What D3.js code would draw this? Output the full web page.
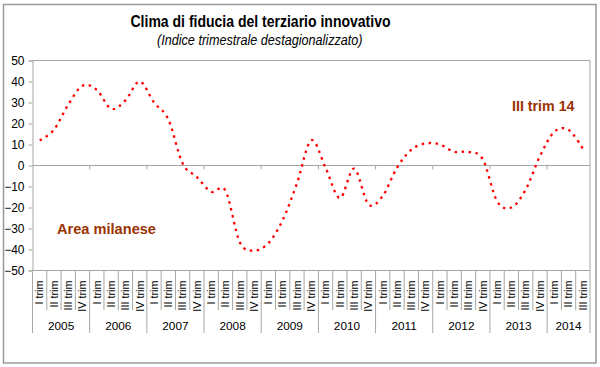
<!DOCTYPE html>
<html>
<head>
<meta charset="utf-8">
<script src="https://cdn.jsdelivr.net/npm/d3@7"></script>
<style>
  body { margin: 0; background: #fff; }
  svg { display: block; font-family: 'Liberation Sans', Arial, sans-serif; }
</style>
</head>
<body>
<div id="chart"></div>
<script>
// trimestri 2005 Q1 .. 2014 Q3
const years = ['2005', '2006', '2007', '2008', '2009', '2010', '2011', '2012', '2013', '2014'];
const quarterLabels = ['I trim', 'II trim', 'III trim', 'IV trim'];
const values = [
  12, 17, 29, 38,        // 2005
  36, 27, 31, 40,        // 2006
  30, 22, 1, -5.5,       // 2007
  -12.5, -12, -36.5, -40.5, // 2008
  -37, -26, -8.5, 12,    // 2009
  -1, -15.5, -1.5, -18.5, // 2010
  -14.5, -1, 7.5, 10.5,  // 2011
  10, 6.5, 6.5, 3,       // 2012
  -17, -20, -11.5, 4.5,  // 2013
  16, 17, 8              // 2014
];
const yTicks = [-50, -40, -30, -20, -10, 0, 10, 20, 30, 40, 50];

const W = 600, H = 367;
const plot = {left: 32.5, right: 590, top: 60.5, bottom: 270.5};
const gray = '#a6a6a6';

const svg = d3.select('#chart').append('svg')
  .attr('width', W)
  .attr('height', H);

// outer frame
svg.append('rect')
  .attr('x', 3.5).attr('y', 4.5)
  .attr('width', 592.5).attr('height', 358.5)
  .attr('fill', '#fff')
  .attr('stroke', '#9a9a9a')
  .attr('stroke-width', 1.5);

// titles (the original font is a bit narrower than Arial)
svg.append('text')
  .attr('x', 130.5).attr('y', 27.3)
  .attr('textLength', 260)
  .attr('lengthAdjust', 'spacingAndGlyphs')
  .style('font-size', '16px')
  .style('font-weight', 'bold')
  .text('Clima di fiducia del terziario innovativo');

svg.append('text')
  .attr('x', 157).attr('y', 45.3)
  .attr('textLength', 205.5)
  .attr('lengthAdjust', 'spacingAndGlyphs')
  .style('font-size', '13.8px')
  .style('font-style', 'italic')
  .text('(Indice trimestrale destagionalizzato)');

const idx = d3.range(values.length);

const x = d3.scaleBand()
  .domain(idx)
  .range([plot.left, plot.right])
  .padding(0);

const y = d3.scaleLinear()
  .domain([-50, 50])
  .range([plot.bottom, plot.top]);

// plot area border (top / right)
svg.append('path')
  .attr('d', `M${plot.left},${plot.top}H${plot.right}V${plot.bottom}`)
  .attr('fill', 'none')
  .attr('stroke', gray);

// Y axis
const yAxis = d3.axisLeft(y)
  .tickValues(yTicks)
  .tickSize(4)
  .tickPadding(4);

svg.append('g')
  .attr('class', 'y axis')
  .attr('transform', 'translate(' + plot.left + ',0)')
  .call(yAxis)
  .call(g => g.select('.domain').attr('stroke', gray))
  .call(g => g.selectAll('.tick line').attr('stroke', gray))
  .call(g => g.selectAll('.tick text')
    .style('font-size', '12px')
    .style('font-family', "'Liberation Sans', Arial, sans-serif")
    .attr('fill', '#000'));

// zero line with small ticks at year boundaries
svg.append('line')
  .attr('x1', plot.left).attr('x2', plot.right)
  .attr('y1', y(0)).attr('y2', y(0))
  .attr('stroke', gray);

svg.selectAll('.zero-tick')
  .data(idx.filter(i => i > 0 && i % 4 === 0))
  .enter().append('line')
  .attr('x1', d => x(d)).attr('x2', d => x(d))
  .attr('y1', y(0)).attr('y2', y(0) + 4)
  .attr('stroke', gray);

// bottom category axis
svg.append('line')
  .attr('x1', plot.left).attr('x2', plot.right)
  .attr('y1', plot.bottom).attr('y2', plot.bottom)
  .attr('stroke', gray);

const bounds = d3.range(values.length + 1);
svg.selectAll('.cat-sep')
  .data(bounds)
  .enter().append('line')
  .attr('x1', d => d < values.length ? x(d) : plot.right)
  .attr('x2', d => d < values.length ? x(d) : plot.right)
  .attr('y1', plot.bottom)
  .attr('y2', d => (d % 4 === 0 || d === values.length) ? 333 : 310)
  .attr('stroke', gray);

svg.selectAll('.cat-label')
  .data(idx)
  .enter().append('text')
  .attr('transform', d => 'translate(' + (x(d) + x.bandwidth() / 2 + 3.8) + ',280.5) rotate(-90)')
  .attr('text-anchor', 'end')
  .style('font-size', '10.8px')
  .text(d => quarterLabels[d % 4]);

svg.selectAll('.year-label')
  .data(years)
  .enter().append('text')
  .attr('x', (d, i) => {
    const a = x(i * 4);
    const b = (i * 4 + 4) < values.length ? x(i * 4 + 4) : plot.right;
    return (a + b) / 2;
  })
  .attr('y', 330)
  .attr('text-anchor', 'middle')
  .style('font-size', '11.8px')
  .text(d => d);

// series
const line = d3.line()
  .x((d, i) => x(i) + x.bandwidth() / 2)
  .y(d => y(d))
  .curve(d3.curveCardinal.tension(0));

svg.append('path')
  .attr('d', line(values))
  .attr('fill', 'none')
  .attr('stroke', '#ff0000')
  .attr('stroke-width', 2.3)
  .attr('stroke-dasharray', '2.5,4.5');

// annotations
svg.append('text')
  .attr('x', 57).attr('y', 234)
  .attr('textLength', 99)
  .attr('lengthAdjust', 'spacingAndGlyphs')
  .style('font-size', '15.5px')
  .style('font-weight', 'bold')
  .attr('fill', '#993300')
  .text('Area milanese');

svg.append('text')
  .attr('x', 512).attr('y', 110.5)
  .attr('textLength', 62.5)
  .attr('lengthAdjust', 'spacingAndGlyphs')
  .style('font-size', '15.5px')
  .style('font-weight', 'bold')
  .attr('fill', '#993300')
  .text('III trim 14');
</script>
</body>
</html>
